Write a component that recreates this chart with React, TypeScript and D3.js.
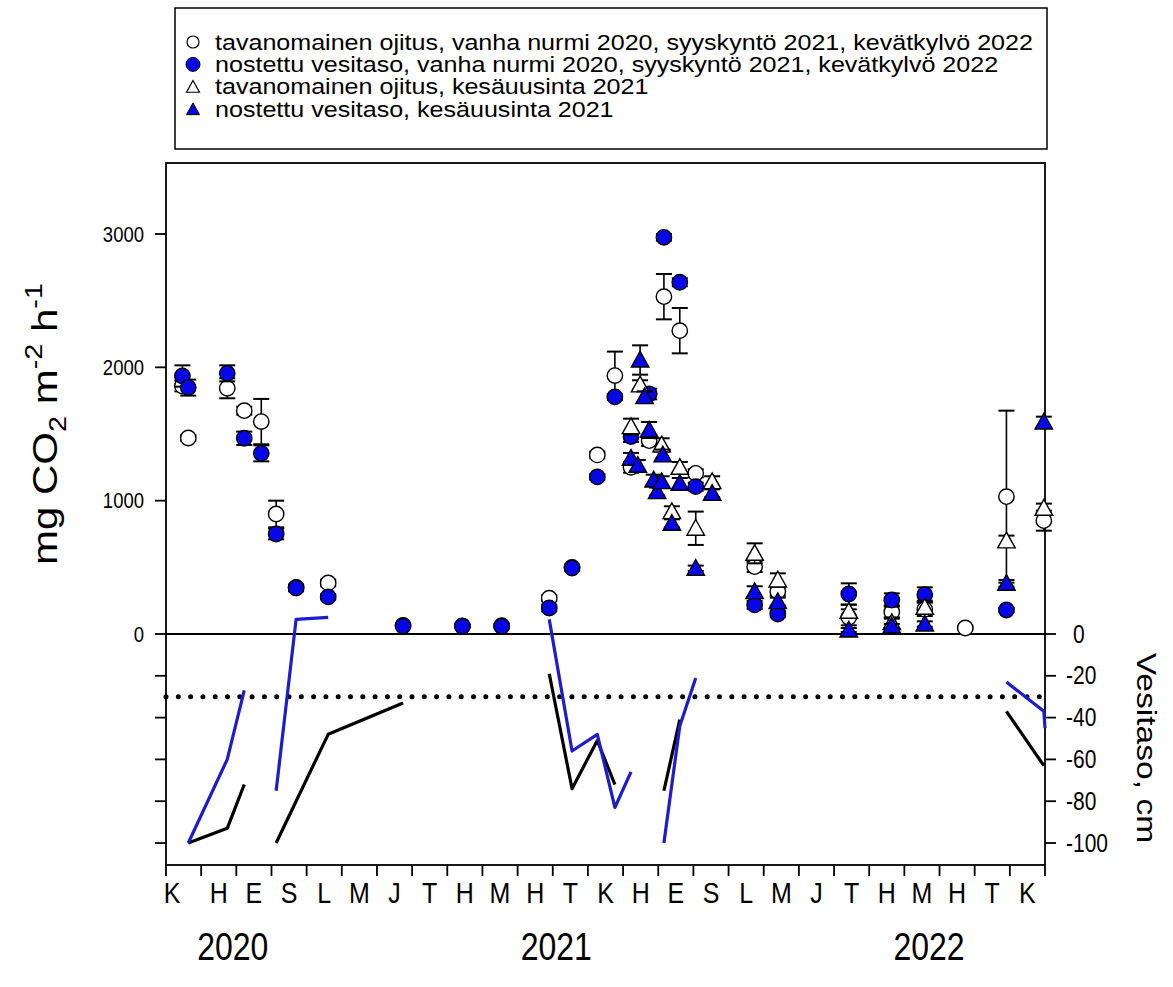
import React from 'react';
import * as d3 from 'd3';

// ---------- data ----------
const monthLabels = ['K','H','E','S','L','M','J','T','H','M','H','T','K','H','E','S','L','M','J','T','H','M','H','T','K'];
const yearLabels: [string, number][] = [['2020', 1.9], ['2021', 11.1], ['2022', 21.7]];
const co2Ticks = [0, 1000, 2000, 3000];
const waterTicks = [0, -20, -40, -60, -80, -100];
const referenceLevel = -30;

const legendLabels = [
  'tavanomainen ojitus, vanha nurmi 2020, syyskyntö 2021, kevätkylvö 2022',
  'nostettu vesitaso, vanha nurmi 2020, syyskyntö 2021, kevätkylvö 2022',
  'tavanomainen ojitus, kesäuusinta 2021',
  'nostettu vesitaso, kesäuusinta 2021',
];

type Obs = [string, number, number]; // date, mean, SE

const conventionalOld: Obs[] = [
  ['2020-06-15', 1860, 40], ['2020-06-20', 1470, 20], ['2020-07-24', 1843, 75],
  ['2020-08-08', 1675, 30], ['2020-08-23', 1593, 170], ['2020-09-05', 900, 100],
  ['2020-09-22', 350, 20], ['2020-10-20', 383, 25], ['2020-12-24', 65, 15],
  ['2021-02-13', 60, 10], ['2021-03-18', 62, 15], ['2021-04-28', 268, 22],
  ['2021-05-18', 500, 20], ['2021-06-09', 1343, 25], ['2021-06-24', 1938, 180],
  ['2021-07-08', 1250, 40], ['2021-07-24', 1450, 40], ['2021-08-06', 2530, 170],
  ['2021-08-20', 2275, 170], ['2021-09-03', 1205, 30], ['2021-10-24', 505, 40],
  ['2021-11-13', 318, 30], ['2022-01-14', 125, 60], ['2022-02-19', 165, 50],
  ['2022-03-19', 185, 50], ['2022-04-23', 45, 10], ['2022-05-29', 1030, 645],
  ['2022-06-30', 850, 75],
];

const raisedOld: Obs[] = [
  ['2020-06-15', 1935, 80], ['2020-06-20', 1848, 60], ['2020-07-24', 1955, 60],
  ['2020-08-08', 1468, 50], ['2020-08-23', 1355, 60], ['2020-09-05', 750, 40],
  ['2020-09-22', 345, 25], ['2020-10-20', 278, 20], ['2020-12-24', 60, 15],
  ['2021-02-13', 58, 10], ['2021-03-18', 58, 15], ['2021-04-28', 195, 25],
  ['2021-05-18', 495, 20], ['2021-06-09', 1178, 20], ['2021-06-24', 1778, 20],
  ['2021-07-08', 1480, 40], ['2021-07-24', 1800, 40], ['2021-08-06', 2975, 25],
  ['2021-08-20', 2638, 30], ['2021-09-03', 1105, 30], ['2021-10-24', 218, 30],
  ['2021-11-13', 150, 25], ['2022-01-14', 300, 80], ['2022-02-19', 255, 50],
  ['2022-03-19', 295, 55], ['2022-05-29', 180, 15],
];

const conventionalRenewal: Obs[] = [
  ['2021-07-08', 1555, 60], ['2021-07-16', 1868, 35], ['2021-08-04', 1418, 50],
  ['2021-08-20', 1250, 40], ['2021-08-13', 918, 40], ['2021-09-03', 793, 125],
  ['2021-09-17', 1143, 40], ['2021-10-24', 605, 75], ['2021-11-13', 405, 50],
  ['2022-01-14', 170, 50], ['2022-02-19', 85, 40], ['2022-03-19', 200, 50],
  ['2022-05-29', 698, 40], ['2022-06-30', 943, 35],
];

const raisedRenewal: Obs[] = [
  ['2021-07-08', 1318, 40], ['2021-07-14', 1265, 40], ['2021-07-16', 2055, 110],
  ['2021-07-20', 1780, 40], ['2021-07-24', 1530, 60], ['2021-07-28', 1155, 40],
  ['2021-07-31', 1068, 30], ['2021-08-04', 1143, 40], ['2021-08-05', 1343, 40],
  ['2021-08-13', 830, 30], ['2021-08-20', 1130, 40], ['2021-09-03', 493, 20],
  ['2021-09-17', 1055, 30], ['2021-10-24', 318, 40], ['2021-11-13', 243, 30],
  ['2022-01-14', 30, 15], ['2022-02-19', 60, 15], ['2022-03-19', 75, 20],
  ['2022-05-29', 380, 25], ['2022-06-30', 1590, 40],
];

type WL = [string, number];
const waterConventional: WL[][] = [
  [['2020-06-20', -100], ['2020-07-24', -93], ['2020-08-08', -72]],
  [['2020-09-05', -100], ['2020-09-22', -80], ['2020-10-20', -48], ['2020-12-24', -33]],
  [['2021-04-28', -19], ['2021-05-18', -74], ['2021-06-09', -51], ['2021-06-24', -72]],
  [['2021-08-06', -75], ['2021-08-20', -41]],
  [['2022-05-29', -37], ['2022-06-30', -63]],
];
const waterRaised: WL[][] = [
  [['2020-06-20', -100], ['2020-07-24', -60], ['2020-08-08', -27]],
  [['2020-09-05', -75], ['2020-09-22', 7], ['2020-10-20', 8]],
  [['2021-04-28', 7], ['2021-05-18', -56], ['2021-06-09', -48], ['2021-06-24', -83], ['2021-07-08', -66]],
  [['2021-08-06', -100], ['2021-08-20', -44], ['2021-09-03', -21]],
  [['2022-05-29', -23], ['2022-06-30', -37], ['2022-07-01', -45]],
];

// ---------- helpers ----------
function monthIndex(s: string): number {
  const [y, m, d] = s.split('-').map(Number);
  const days = new Date(y, m, 0).getDate();
  return (y - 2020) * 12 + (m - 6) + (d - 1) / days;
}

const FRAME = { left: 166, right: 1045, top: 163, bottom: 865 };
const x = d3.scaleLinear().domain([0, 25]).range([FRAME.left, FRAME.right]);
const yC = d3.scaleLinear().domain([0, 3000]).range([634, 234]);
const yW = d3.scaleLinear().domain([0, -100]).range([634, 843]);

const BLUE = '#0606e8';
const LINEBLUE = '#1c1cd0';
const FONT = "'Liberation Sans', Arial, Helvetica, sans-serif";

function T(props: { x: number; y: number; size: number; anchor?: string; rotate?: number; sx?: number; sy?: number; children: any }) {
  const { x: tx, y: ty, size, anchor = 'middle', rotate = 0, sx = 1, sy = 1.2, children } = props;
  return (
    <text
      transform={`translate(${tx},${ty}) scale(${sx},${sy})${rotate ? ` rotate(${rotate})` : ''}`}
      fontSize={size}
      fontFamily={FONT}
      textAnchor={anchor as any}
      fill="#000"
    >
      {children}
    </text>
  );
}

function triPath(cx: number, cy: number, w: number) {
  const h = w * 0.9;
  return `M${cx},${cy - h * 0.62}L${cx + w / 2},${cy + h * 0.38}L${cx - w / 2},${cy + h * 0.38}Z`;
}

function Marker({ kind, cx, cy, fill }: { kind: string; cx: number; cy: number; fill: string }) {
  if (kind === 'circle') return <circle cx={cx} cy={cy} r={7.7} fill={fill} stroke="#000" strokeWidth={1.4} />;
  return <path d={triPath(cx, cy + 1, 17.5)} fill={fill} stroke="#000" strokeWidth={1.4} />;
}

function Series({ data, kind, fill }: { data: Obs[]; kind: string; fill: string }) {
  return (
    <g>
      {data.map(([d, v, se], i) => {
        const cx = x(monthIndex(d));
        const y1 = yC(v + se), y2 = yC(v - se);
        return (
          <g key={i}>
            <line x1={cx} x2={cx} y1={y1} y2={y2} stroke="#000" strokeWidth={1.6} />
            <line x1={cx - 8} x2={cx + 8} y1={y1} y2={y1} stroke="#000" strokeWidth={2} />
            <line x1={cx - 8} x2={cx + 8} y1={y2} y2={y2} stroke="#000" strokeWidth={2} />
          </g>
        );
      })}
      {data.map(([d, v], i) => (
        <Marker key={'m' + i} kind={kind} cx={x(monthIndex(d))} cy={yC(v)} fill={fill} />
      ))}
    </g>
  );
}

export default function App() {
  const line = d3
    .line<WL>()
    .x((p) => x(monthIndex(p[0])))
    .y((p) => yW(p[1]));

  const monthTicks = d3.range(0, 26);

  return (
    <svg width={1173} height={987} style={{ position: 'absolute', left: 0, top: 0, background: '#fff' }}>
      <rect x={0} y={0} width={1173} height={987} fill="#fff" />

      {/* legend */}
      <rect x={175} y={8} width={872} height={141} fill="#fff" stroke="#000" strokeWidth={1.5} />
      {legendLabels.map((lab, i) => {
        const cy = 42 + i * 22.4;
        const sym =
          i === 0 ? <circle cx={193} cy={cy} r={6} fill="#fff" stroke="#000" strokeWidth={1.2} /> :
          i === 1 ? <circle cx={193} cy={cy} r={7} fill={BLUE} stroke="#000" strokeWidth={1} /> :
          i === 2 ? <path d={triPath(193, cy + 1, 13)} fill="#fff" stroke="#000" strokeWidth={1.2} /> :
          <path d={triPath(193, cy + 1, 13)} fill={BLUE} stroke="#000" strokeWidth={1} />;
        return (
          <g key={i}>
            {sym}
            <T x={215} y={cy + 7.5} size={22} sx={1.14} sy={1} anchor="start">{lab}</T>
          </g>
        );
      })}

      {/* frame */}
      <rect x={FRAME.left} y={FRAME.top} width={FRAME.right - FRAME.left} height={FRAME.bottom - FRAME.top} fill="none" stroke="#000" strokeWidth={1.8} />

      {/* left axis ticks */}
      {co2Ticks.map((t) => (
        <g key={'lc' + t}>
          <line x1={FRAME.left - 11} x2={FRAME.left} y1={yC(t)} y2={yC(t)} stroke="#000" strokeWidth={1.8} />
          <T x={FRAME.left - 22} y={yC(t) + 7.5} size={18.5} anchor="end">{String(t)}</T>
        </g>
      ))}
      {waterTicks.filter((t) => t !== 0).map((t) => (
        <line key={'lw' + t} x1={FRAME.left - 11} x2={FRAME.left} y1={yW(t)} y2={yW(t)} stroke="#000" strokeWidth={1.8} />
      ))}

      {/* right axis */}
      {waterTicks.map((t) => (
        <g key={'rw' + t}>
          <line x1={FRAME.right} x2={FRAME.right + 11} y1={yW(t)} y2={yW(t)} stroke="#000" strokeWidth={1.8} />
          <T x={t < 0 ? FRAME.right + 21 : FRAME.right + 28} y={yW(t) + 8.5} size={21} anchor="start">{String(t)}</T>
        </g>
      ))}

      {/* bottom axis */}
      {monthTicks.map((m) => (
        <line key={'bt' + m} x1={x(m)} x2={x(m)} y1={FRAME.bottom} y2={FRAME.bottom + 11} stroke="#000" strokeWidth={1.8} />
      ))}
      {monthLabels.map((lab, i) => (
        <T key={'ml' + i} x={x(i === 0 ? 0.17 : i + 0.5)} y={903} size={25}>{lab}</T>
      ))}
      {yearLabels.map(([lab, at]) => (
        <T key={lab} x={x(at)} y={960} size={32}>{lab}</T>
      ))}

      {/* axis titles */}
      <T x={57} y={424} size={35} rotate={-90}>
        mg CO<tspan dy={9} fontSize={24}>2</tspan>
        <tspan dy={-9}> m</tspan>
        <tspan dy={-15} fontSize={24}>-2</tspan>
        <tspan dy={15}> h</tspan>
        <tspan dy={-15} fontSize={24}>-1</tspan>
      </T>
      <T x={1137} y={748} size={28} rotate={90}>Vesitaso, cm</T>

      {/* zero line and reference level */}
      <line x1={FRAME.left} x2={FRAME.right} y1={yC(0)} y2={yC(0)} stroke="#000" strokeWidth={2} />
      <line
        x1={FRAME.left}
        x2={FRAME.right}
        y1={yW(referenceLevel)}
        y2={yW(referenceLevel)}
        stroke="#000"
        strokeWidth={5}
        strokeLinecap="round"
        strokeDasharray="0 12.3"
      />

      {/* water levels */}
      {waterConventional.map((seg, i) => (
        <path key={'wc' + i} d={line(seg) || ''} fill="none" stroke="#000" strokeWidth={3.2} strokeLinejoin="round" />
      ))}
      {waterRaised.map((seg, i) => (
        <path key={'wr' + i} d={line(seg) || ''} fill="none" stroke={LINEBLUE} strokeWidth={3.2} strokeLinejoin="round" />
      ))}

      {/* CO2 series */}
      <Series data={conventionalOld} kind="circle" fill="#fff" />
      <Series data={raisedOld} kind="circle" fill={BLUE} />
      <Series data={conventionalRenewal} kind="tri" fill="#fff" />
      <Series data={raisedRenewal} kind="tri" fill={BLUE} />
    </svg>
  );
}
